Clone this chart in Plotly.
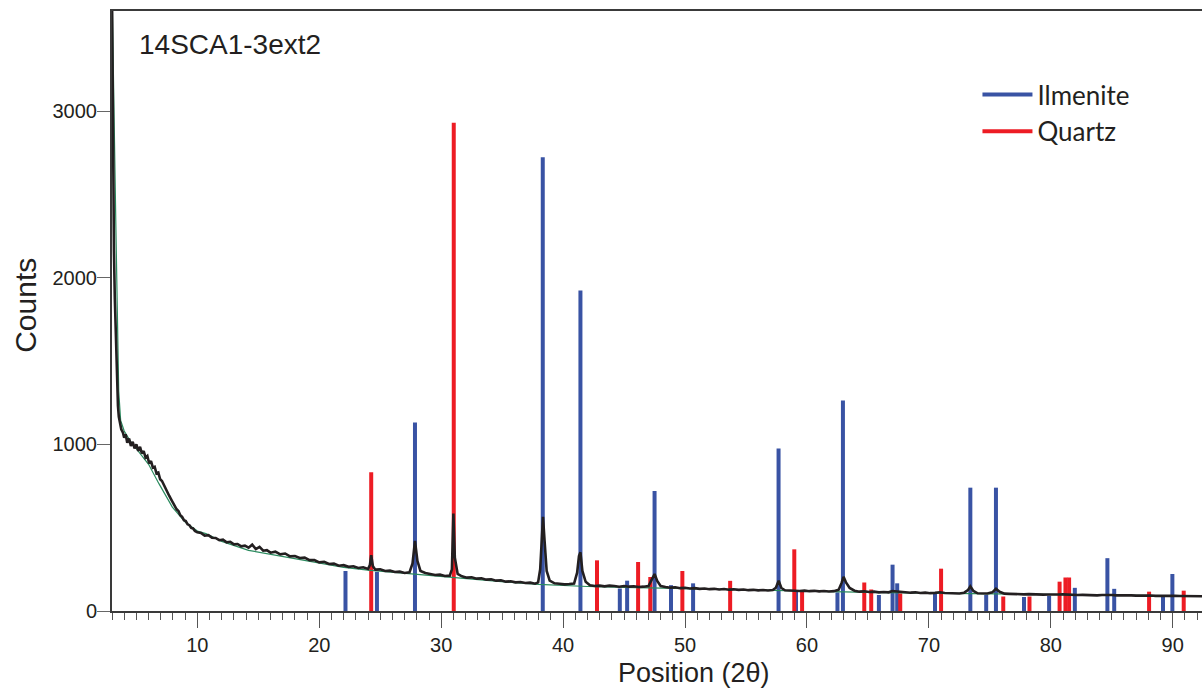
import plotly.graph_objects as go

pattern_2theta = [
    3.00, 3.05, 3.10, 3.16, 3.23, 3.30, 3.36, 3.42, 3.49, 3.56, 3.65, 3.76, 3.90, 4.00, 4.12,
    4.25, 4.40, 4.55, 4.70, 4.85, 5.00, 5.15, 5.30, 5.45, 5.60, 5.75, 5.90, 6.05, 6.20, 6.35,
    6.50, 6.65, 6.80, 6.95, 7.10, 7.25, 7.40, 7.55, 7.70, 7.85, 8.00, 8.15, 8.30, 8.45, 8.60,
    8.75, 8.90, 9.05, 9.20, 9.35, 9.50, 9.65, 9.80, 10.0, 10.3, 10.6, 10.9, 11.2, 11.5, 11.8,
    12.1, 12.4, 12.7, 13.0, 13.3, 13.6, 13.9, 14.2, 14.5, 14.8, 15.1, 15.4, 15.7, 16.0, 16.4,
    16.8, 17.2, 17.6, 18.0, 18.4, 18.8, 19.2, 19.6, 20.0, 20.4, 20.8, 21.2, 21.6, 22.0, 22.4,
    22.8, 23.2, 23.6, 24.0, 24.15, 24.26, 24.40, 24.6, 25.0, 25.4, 25.8, 26.2, 26.6, 27.0, 27.4,
    27.65, 27.85, 28.05, 28.3, 28.7, 29.1, 29.5, 29.9, 30.3, 30.7, 30.88, 31.00, 31.12, 31.35, 31.7,
    32.1, 32.5, 32.9, 33.3, 33.7, 34.1, 34.5, 34.9, 35.3, 35.7, 36.1, 36.5, 36.9, 37.3, 37.7,
    37.95, 38.12, 38.25, 38.35, 38.48, 38.65, 38.9, 39.3, 39.7, 40.1, 40.5, 40.9, 41.15, 41.30, 41.42,
    41.58, 41.85, 42.2, 42.6, 43.0, 43.4, 43.8, 44.2, 44.6, 45.0, 45.4, 45.8, 46.2, 46.6, 47.0,
    47.25, 47.50, 47.72, 48.0, 48.4, 48.8, 49.2, 49.6, 50.0, 50.4, 50.8, 51.2, 51.6, 52.0, 52.4,
    52.8, 53.2, 53.6, 54.0, 54.4, 54.8, 55.2, 55.6, 56.0, 56.4, 56.8, 57.2, 57.45, 57.68, 57.9,
    58.2, 58.6, 59.0, 59.4, 59.8, 60.2, 60.6, 61.0, 61.4, 61.8, 62.2, 62.6, 62.85, 63.00, 63.2,
    63.5, 63.9, 64.3, 64.7, 65.1, 65.5, 65.9, 66.3, 66.7, 67.0, 67.3, 67.7, 68.1, 68.5, 68.9,
    69.3, 69.7, 70.1, 70.5, 70.9, 71.3, 71.7, 72.1, 72.5, 72.9, 73.2, 73.40, 73.65, 74.0, 74.4,
    74.8, 75.2, 75.50, 75.8, 76.2, 76.6, 77.0, 77.4, 77.8, 78.2, 78.6, 79.0, 79.4, 79.8, 80.2,
    80.6, 81.0, 81.4, 81.8, 82.2, 82.6, 83.0, 83.4, 83.8, 84.2, 84.6, 85.0, 85.4, 85.8, 86.2,
    86.6, 87.0, 87.4, 87.8, 88.2, 88.6, 89.0, 89.4, 89.8, 90.2, 90.6, 91.0, 91.4, 91.8, 92.2,
    92.5,
]
pattern_counts = [
    3700, 3000, 2500, 2160, 1880, 1660, 1480, 1330, 1230, 1165, 1120, 1090, 1070, 1040, 1060,
    1010, 1035, 990, 1015, 975, 1000, 960, 985, 945, 960, 920, 930, 885, 900, 860,
    865, 825, 830, 790, 780, 755, 730, 715, 690, 670, 650, 635, 610, 600, 575,
    565, 545, 540, 520, 515, 498, 495, 480, 472, 468, 452, 455, 440, 438, 425,
    428, 412, 415, 400, 402, 388, 392, 380, 398, 372, 385, 362, 365, 350, 356,
    340, 345, 328, 330, 318, 320, 305, 306, 292, 295, 282, 284, 272, 275, 265,
    268, 258, 262, 252, 275, 335, 268, 248, 250, 240, 242, 234, 236, 228, 232,
    285, 420, 300, 240, 228, 224, 216, 218, 210, 212, 250, 585, 320, 222, 208,
    200, 202, 194, 196, 188, 190, 182, 184, 176, 178, 172, 174, 168, 170, 164,
    172, 250, 480, 565, 420, 240, 182, 166, 164, 160, 162, 165, 230, 330, 352,
    240, 175, 155, 150, 152, 148, 152, 150, 146, 150, 146, 148, 144, 146, 150,
    185, 222, 180, 150, 144, 140, 142, 137, 139, 135, 137, 133, 135, 131, 133,
    129, 132, 128, 130, 127, 129, 125, 127, 124, 126, 123, 126, 140, 182, 138,
    124, 122, 123, 120, 122, 119, 121, 118, 120, 117, 119, 128, 170, 205, 172,
    138, 122, 116, 118, 114, 116, 112, 114, 112, 120, 118, 112, 111, 110, 112,
    108, 110, 107, 109, 112, 108, 106, 108, 105, 110, 125, 148, 120, 106, 104,
    105, 112, 133, 115, 104, 103, 101, 102, 100, 101, 99, 100, 98, 99, 97,
    99, 100, 98, 99, 96, 97, 95, 96, 94, 96, 98, 96, 94, 95, 93,
    94, 92, 93, 91, 93, 91, 92, 90, 92, 91, 90, 89, 90, 88, 89,
    88,
]

# ---- fitted background (green) ----
bg_2theta = [3.00, 3.08, 3.20, 3.31, 3.43, 3.55, 3.71, 4.0, 4.5, 5.0, 5.5, 6.0, 6.85, 7.95, 9.0,
             10.0, 10.7, 12.0, 14.2, 16.0, 18.0, 20.0, 22.0, 24.0, 26.0, 28.0, 30.0, 32.0, 34.0,
             36.0, 38.0, 40.0, 42.0, 45.0, 50.0, 55.0, 60.0, 65.0, 70.0, 75.0, 80.0, 85.0, 90.0, 92.5]
bg_counts = [3750, 3300, 2820, 2340, 1830, 1320, 1143, 1080, 1020, 975, 930, 880, 764, 623, 534,
             480, 464, 418, 364, 340, 312, 285, 262, 245, 232, 220, 208, 196, 182,
             170, 160, 153, 147, 142, 134, 126, 118, 112, 107, 103, 99, 95, 92, 90]

# ---- reference stick patterns ----
ilmenite_pos = [22.15, 24.73, 27.85, 38.33, 41.42, 44.65, 45.25, 47.50, 48.85, 50.66, 57.67, 59.10,
                62.50, 62.95, 65.90, 67.02, 67.40, 70.50, 73.40, 74.70, 75.50, 77.80, 79.86,
                81.97, 84.64, 85.20, 89.20, 89.97]
ilmenite_int = [240, 235, 1131, 2722, 1923, 135, 182, 720, 155, 166, 975, 124,
                112, 1263, 96, 278, 166, 106, 740, 96, 740, 84, 92,
                139, 317, 133, 84, 222]
quartz_pos = [24.26, 31.03, 42.78, 46.15, 47.15, 49.78, 53.70, 58.96, 59.60, 64.70, 65.27, 67.65,
              71.00, 76.10, 78.25, 80.72, 81.20, 81.50, 88.06, 90.90]
quartz_int = [833, 2930, 304, 294, 204, 240, 181, 370, 119, 171, 129, 106,
              254, 87, 87, 176, 201, 201, 116, 122]

sample_name = "14SCA1-3ext2"
x_title = "Position (2θ)"
y_title = "Counts"
y_ticks = [0, 1000, 2000, 3000]
x_ticks = [10, 20, 30, 40, 50, 60, 70, 80, 90]

BLUE = "#3953a4"
RED = "#ed1c24"
INK = "#231f20"
GREEN = "#2a8a5e"


def sticks(pos, inten):
    xs, ys = [], []
    for p, h in zip(pos, inten):
        xs += [p, p, None]
        ys += [0, h, None]
    return xs, ys


fig = go.Figure()
ix, iy = sticks(ilmenite_pos, ilmenite_int)
qx, qy = sticks(quartz_pos, quartz_int)
fig.add_trace(go.Scatter(x=ix, y=iy, mode="lines", name="Ilmenite",
                         line=dict(color=BLUE, width=4), hoverinfo="skip"))
fig.add_trace(go.Scatter(x=qx, y=qy, mode="lines", name="Quartz",
                         line=dict(color=RED, width=4), hoverinfo="skip"))
fig.add_trace(go.Scatter(x=bg_2theta, y=bg_counts, mode="lines", showlegend=False,
                         line=dict(color=GREEN, width=1.2)))
fig.add_trace(go.Scatter(x=pattern_2theta, y=pattern_counts, mode="lines", showlegend=False,
                         line=dict(color=INK, width=2.6)))

fig.update_layout(
    width=1202, height=690,
    margin=dict(l=112, r=0, t=11, b=79),
    paper_bgcolor="white", plot_bgcolor="white",
    font=dict(family="Liberation Sans, Arial, sans-serif", color=INK, size=20),
    showlegend=True,
    legend=dict(x=0.794, y=0.9, xanchor="left", yanchor="top",
                font=dict(family="Lato, sans-serif", size=26, color=INK),
                bgcolor="rgba(0,0,0,0)", itemwidth=50, tracegroupgap=0),
    xaxis=dict(range=[3.0, 92.4], tickvals=x_ticks, ticks="outside", ticklen=15,
               tickwidth=1, tickcolor="#555555", showline=True, linecolor="#3a3a3a",
               linewidth=2, mirror=True, showgrid=False, zeroline=False,
               tickfont=dict(size=20, color=INK),
               minor=dict(dtick=1, tick0=0, ticks="outside", ticklen=7,
                          tickcolor="#555555", tickwidth=1, showgrid=False)),
    yaxis=dict(range=[0, 3600], tickvals=y_ticks, ticks="outside", ticklen=13,
               tickwidth=1, tickcolor="#666666", showline=True, linecolor="#3a3a3a",
               linewidth=2, showgrid=False, zeroline=False, ticklabelstandoff=-4,
               tickfont=dict(size=20, color=INK)),
    annotations=[
        dict(text=sample_name, xref="paper", yref="paper", x=0.0229, y=0.945,
             xanchor="left", yanchor="middle", showarrow=False,
             font=dict(size=28, color=INK, family="Liberation Sans, Arial, sans-serif")),
        dict(text=x_title, xref="paper", yref="paper", x=0.534, y=-0.103,
             xanchor="center", yanchor="middle", showarrow=False,
             font=dict(size=27, color=INK, family="Liberation Sans, Arial, sans-serif")),
        dict(text=y_title, xref="paper", yref="paper", x=-0.080, y=0.51, textangle=-90,
             xanchor="center", yanchor="middle", showarrow=False,
             font=dict(size=30, color=INK, family="Liberation Sans, Arial, sans-serif")),
    ],
)

fig.write_html("out.html", config={"displayModeBar": False},
               post_script="document.body.style.margin='0';")
